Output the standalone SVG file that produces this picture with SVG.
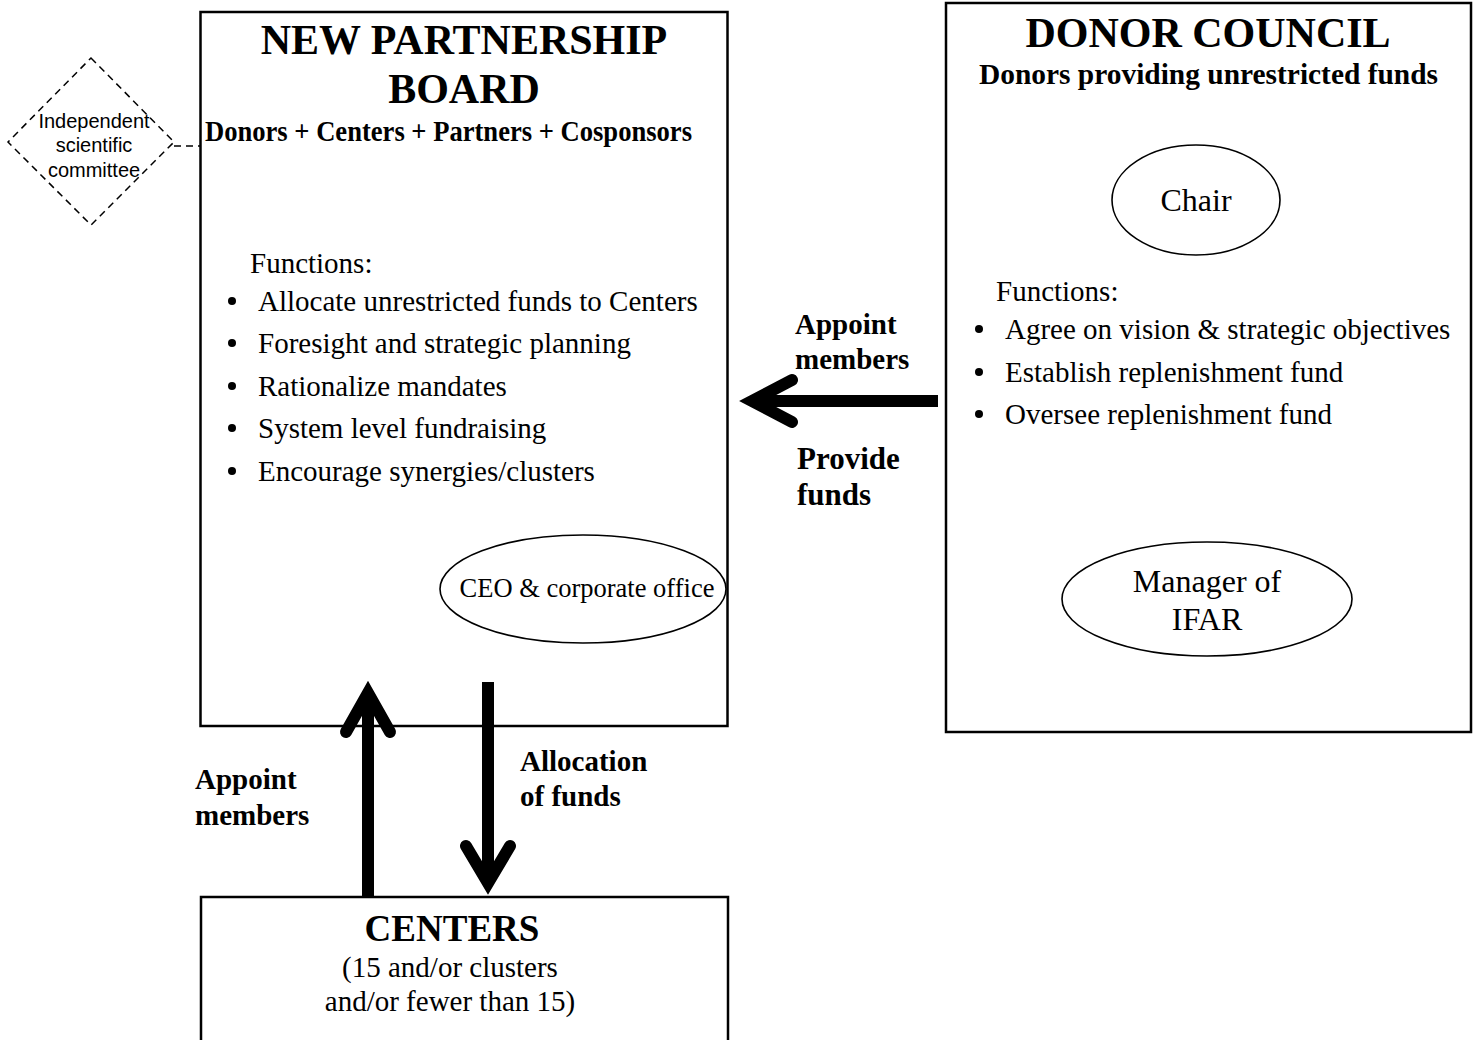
<svg xmlns="http://www.w3.org/2000/svg" width="1478" height="1040" viewBox="0 0 1478 1040">
  <style>
    .box { fill: #fff; stroke: #000; stroke-width: 2.5; }
    .oval { fill: none; stroke: #000; stroke-width: 1.6; }
    .dash { fill: none; stroke: #000; stroke-width: 1.5; stroke-dasharray: 7 5; }
    .title { font-family: "Liberation Serif", "Times New Roman", serif; font-weight: bold; font-size: 42px; text-anchor: middle; }
    .sub { font-family: "Liberation Serif", "Times New Roman", serif; font-weight: bold; font-size: 29px; }
    .body { font-family: "Liberation Serif", "Times New Roman", serif; font-size: 29px; }
    .lbl { font-family: "Liberation Serif", "Times New Roman", serif; font-weight: bold; font-size: 29px; }
    .sans { font-family: "Liberation Sans", Arial, sans-serif; font-size: 20px; text-anchor: middle; }
    .mid { text-anchor: middle; }
    .arrow { fill: none; stroke: #000; stroke-width: 12; stroke-linecap: round; stroke-linejoin: miter; }
    .shaft { fill: none; stroke: #000; stroke-width: 12; stroke-linecap: butt; }
  </style>

  <!-- New Partnership Board -->
  <g id="board">
    <rect class="box" x="200.5" y="12" width="527" height="714"/>
    <text class="title" x="464" y="54">NEW PARTNERSHIP</text>
    <text class="title" x="464" y="103">BOARD</text>
    <text class="sub" x="205" y="141" textLength="487" lengthAdjust="spacingAndGlyphs">Donors + Centers + Partners + Cosponsors</text>
    <text class="body" x="250" y="273">Functions:</text>
    <g>
      <circle cx="232" cy="301" r="4"/>
      <circle cx="232" cy="343" r="4"/>
      <circle cx="232" cy="386" r="4"/>
      <circle cx="232" cy="428" r="4"/>
      <circle cx="232" cy="471" r="4"/>
    </g>
    <text class="body" x="258" y="311">Allocate unrestricted funds to Centers</text>
    <text class="body" x="258" y="353">Foresight and strategic planning</text>
    <text class="body" x="258" y="396">Rationalize mandates</text>
    <text class="body" x="258" y="438">System level fundraising</text>
    <text class="body" x="258" y="481">Encourage synergies/clusters</text>
  </g>

  <g id="ceo-office">
    <ellipse class="oval" cx="583" cy="589" rx="143" ry="54"/>
    <text class="body mid" x="587" y="597" style="font-size:26.5px">CEO &amp; corporate office</text>
  </g>

  <!-- Independent scientific committee -->
  <g id="committee">
    <polygon class="dash" points="91,58 174,142 91,225 8,142"/>
    <text class="sans" x="94" y="128">Independent</text>
    <text class="sans" x="94" y="152">scientific</text>
    <text class="sans" x="94" y="177">committee</text>
  </g>

  <!-- Donor Council -->
  <g id="donor-council">
    <rect class="box" x="946" y="3" width="525" height="729"/>
    <text class="title" x="1208" y="47">DONOR COUNCIL</text>
    <text class="sub" x="979" y="84" textLength="459" lengthAdjust="spacingAndGlyphs">Donors providing unrestricted funds</text>
    <text class="body" x="996" y="301">Functions:</text>
    <g>
      <circle cx="979" cy="329" r="4"/>
      <circle cx="979" cy="372" r="4"/>
      <circle cx="979" cy="414" r="4"/>
    </g>
    <text class="body" x="1005" y="339">Agree on vision &amp; strategic objectives</text>
    <text class="body" x="1005" y="382">Establish replenishment fund</text>
    <text class="body" x="1005" y="424">Oversee replenishment fund</text>
  </g>

  <g id="chair">
    <ellipse class="oval" cx="1196" cy="200" rx="84" ry="55"/>
    <text class="body mid" x="1196" y="211" style="font-size:32px">Chair</text>
  </g>

  <g id="ifar-manager">
    <ellipse class="oval" cx="1207" cy="599" rx="145" ry="57"/>
    <text class="body mid" x="1207" y="592" style="font-size:32px">Manager of</text>
    <text class="body mid" x="1207" y="630" style="font-size:32px">IFAR</text>
  </g>

  <!-- Centers -->
  <g id="centers">
    <rect class="box" x="201" y="897" width="527" height="160"/>
    <text class="title" x="452" y="941" style="font-size:37px">CENTERS</text>
    <text class="body mid" x="450" y="977">(15 and/or clusters</text>
    <text class="body mid" x="450" y="1011">and/or fewer than 15)</text>
  </g>

  <!-- Connectors -->
  <g id="connectors">
    <line class="dash" x1="174" y1="146" x2="200" y2="146"/>

    <!-- Donor Council to Board -->
    <line class="shaft" x1="938" y1="401" x2="756" y2="401"/>
    <polyline class="arrow" points="792,380 752,401 792,422"/>

    <!-- Centers to Board -->
    <line class="shaft" x1="368" y1="897" x2="368" y2="700"/>
    <polyline class="arrow" points="346,732 368,693 390,732"/>

    <!-- Board to Centers -->
    <line class="shaft" x1="488" y1="682" x2="488" y2="876"/>
    <polyline class="arrow" points="466,846 488,883 510,846"/>
  </g>

  <!-- Connector labels -->
  <g id="labels">
    <text class="lbl" x="795" y="334">Appoint</text>
    <text class="lbl" x="795" y="369">members</text>
    <text class="lbl" x="797" y="469" style="font-size:31px">Provide</text>
    <text class="lbl" x="797" y="505" style="font-size:31px">funds</text>
    <text class="lbl" x="195" y="789">Appoint</text>
    <text class="lbl" x="195" y="825">members</text>
    <text class="lbl" x="520" y="771">Allocation</text>
    <text class="lbl" x="520" y="806">of funds</text>
  </g>
</svg>
